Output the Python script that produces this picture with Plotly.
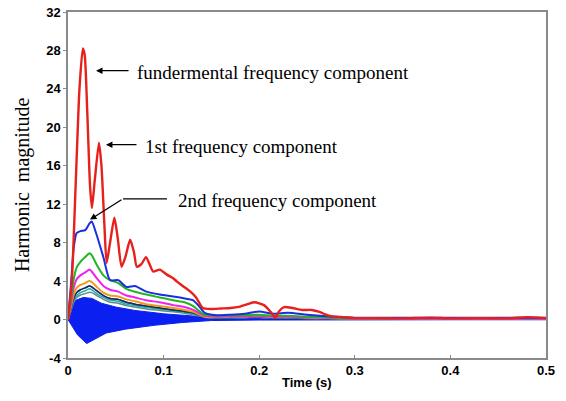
import plotly.graph_objects as go

# ---------------- data ----------------
t_fund = [0, 0.004, 0.008, 0.012, 0.0155, 0.0175, 0.02, 0.023, 0.025, 0.028, 0.0324, 0.035,
          0.038, 0.0404, 0.044, 0.0485, 0.052, 0.056, 0.060, 0.065, 0.069, 0.072, 0.077,
          0.0816, 0.086, 0.089, 0.096, 0.103, 0.110, 0.114, 0.120, 0.128, 0.134, 0.141,
          0.150, 0.160, 0.170, 0.180, 0.188, 0.195, 0.205, 0.212, 0.217, 0.221, 0.226,
          0.235, 0.245, 0.255, 0.263, 0.270, 0.275, 0.280, 0.290, 0.300, 0.320, 0.350,
          0.380, 0.400, 0.430, 0.460, 0.480, 0.500]
v_fund = [0, 4.0, 14.0, 24.0, 28.2, 27.5, 22.0, 14.0, 11.6, 14.5, 18.4, 16.0,
          10.0, 5.9, 8.0, 10.6, 8.5, 5.5, 6.5, 8.3, 7.0, 5.5, 5.8,
          6.5, 5.6, 5.0, 5.2, 4.7, 4.3, 3.95, 3.5, 2.9, 2.3, 1.2,
          1.1, 1.15, 1.2, 1.35, 1.6, 1.8, 1.5, 0.8, 0.2, 0.9, 1.3,
          1.2, 1.0, 1.0, 0.8, 0.5, 0.35, 0.3, 0.25, 0.15, 0.15, 0.12,
          0.2, 0.12, 0.15, 0.12, 0.25, 0.15]

t_h = [0, 0.003, 0.006, 0.009, 0.013, 0.018, 0.0225, 0.0248, 0.030, 0.037, 0.044, 0.0526,
       0.061, 0.070, 0.082, 0.096, 0.110, 0.122, 0.131, 0.137, 0.143, 0.155, 0.170,
       0.185, 0.200, 0.215, 0.230, 0.250, 0.270, 0.300, 0.350, 0.400, 0.450, 0.500]
v_2nd = [0, 3.5, 7.5, 9.0, 9.2, 9.3, 10.0, 10.2, 8.8, 6.5, 4.1, 4.1,
         3.4, 3.5, 2.9, 2.6, 2.4, 2.2, 2.0, 1.4, 0.7, 0.45, 0.5,
         0.6, 0.85, 0.6, 0.7, 0.5, 0.35, 0.2, 0.18, 0.18, 0.18, 0.18]
v_3rd = [0, 2.0, 4.2, 5.4, 6.0, 6.5, 6.9, 6.7, 5.7, 4.6, 4.1, 3.8,
         3.2, 2.9, 2.6, 2.3, 2.0, 1.8, 1.4, 0.9, 0.5, 0.4, 0.42,
         0.45, 0.5, 0.4, 0.4, 0.3, 0.25, 0.15, 0.15, 0.15, 0.15, 0.15]
v_4th = [0, 1.6, 3.3, 4.2, 4.6, 4.9, 5.2, 5.0, 4.3, 3.5, 3.1, 2.9,
         2.5, 2.3, 2.0, 1.8, 1.5, 1.3, 1.0, 0.7, 0.4, 0.3, 0.32,
         0.35, 0.4, 0.3, 0.3, 0.25, 0.2, 0.12, 0.12, 0.12, 0.12, 0.12]
v_5th = [0, 1.3, 2.6, 3.3, 3.6, 3.8, 4.05, 3.9, 3.4, 2.8, 2.5, 2.4,
         2.1, 1.9, 1.6, 1.4, 1.2, 1.0, 0.8, 0.55, 0.3, 0.25, 0.28,
         0.3, 0.35, 0.25, 0.25, 0.2, 0.15, 0.1, 0.1, 0.1, 0.1, 0.1]
v_6th = [0, 1.1, 2.2, 2.8, 3.1, 3.3, 3.5, 3.4, 3.0, 2.5, 2.2, 2.1,
         1.8, 1.6, 1.4, 1.2, 1.0, 0.85, 0.7, 0.5, 0.3, 0.2, 0.22,
         0.25, 0.3, 0.2, 0.2, 0.15, 0.12, 0.1, 0.1, 0.1, 0.1, 0.1]
v_7th = [0, 1.0, 2.0, 2.5, 2.8, 3.0, 3.2, 3.1, 2.7, 2.3, 2.0, 1.9,
         1.6, 1.45, 1.25, 1.1, 0.9, 0.75, 0.6, 0.45, 0.28, 0.2, 0.2,
         0.22, 0.25, 0.2, 0.18, 0.14, 0.1, 0.1, 0.1, 0.1, 0.1, 0.1]
v_8th = [0, 0.9, 1.8, 2.3, 2.55, 2.7, 2.85, 2.8, 2.5, 2.1, 1.8, 1.7,
         1.45, 1.3, 1.1, 0.95, 0.8, 0.65, 0.5, 0.4, 0.25, 0.18, 0.18,
         0.2, 0.22, 0.18, 0.16, 0.12, 0.1, 0.1, 0.1, 0.1, 0.1, 0.1]

# envelope of the high-order oscillating component
t_env_up = [0, 0.003, 0.008, 0.016, 0.025, 0.035, 0.050, 0.070, 0.100, 0.120, 0.140,
            0.170, 0.200, 0.300, 0.400, 0.500]
v_env_up = [0, 1.2, 2.0, 2.3, 2.2, 1.7, 1.3, 0.95, 0.6, 0.45, 0.3,
            0.22, 0.2, 0.15, 0.12, 0.1]
t_env_lo = [0, 0.004, 0.010, 0.0195, 0.025, 0.040, 0.060, 0.090, 0.120, 0.150,
            0.200, 0.300, 0.400, 0.500]
v_env_lo = [0, -0.6, -1.6, -2.5, -2.2, -1.4, -1.0, -0.6, -0.3, -0.1,
            -0.05, -0.02, -0.02, -0.02]

x_ticks = [0, 0.1, 0.2, 0.3, 0.4, 0.5]
y_ticks = [-4, 0, 4, 8, 12, 16, 20, 24, 28, 32]

fig = go.Figure()

# oscillating band
fig.add_trace(go.Scatter(
    x=t_env_up + t_env_lo[::-1], y=v_env_up + v_env_lo[::-1],
    fill="toself", fillcolor="#0a1ff0", mode="lines",
    line=dict(color="#0a1ff0", width=1), hoverinfo="skip", showlegend=False))

lines = [
    (t_h, v_8th, "#5f8f80", 1.5),
    (t_h, v_7th, "#22aab8", 1.5),
    (t_h, v_6th, "#1f6f6f", 1.5),
    (t_h, v_6th, "#1d2a5c", 1.5),
    (t_h, v_5th, "#f39a1e", 2),
    (t_h, v_4th, "#ee22ee", 2),
    (t_h, v_3rd, "#22b522", 2),
    (t_h, v_2nd, "#1a2ee0", 2),
    (t_fund, v_fund, "#e8201c", 2.4),
]
for xs, ys, col, w in lines:
    fig.add_trace(go.Scatter(x=xs, y=ys, mode="lines",
                             line=dict(color=col, width=w, shape="spline", smoothing=0.6),
                             showlegend=False))

serif = "Liberation Serif, Times New Roman, serif"
sans = "Liberation Sans, Arial, sans-serif"
ann_font = dict(family=serif, size=19, color="black")

annotations = [
    dict(x=0.0293, y=25.9, ax=0.0649, ay=25.9, xref="x", yref="y", axref="x", ayref="y",
         text="", showarrow=True, arrowhead=2, arrowsize=1, arrowwidth=1.3, arrowcolor="black"),
    dict(x=0.070, y=25.7, xref="x", yref="y", text="fundermental frequency component",
         showarrow=False, xanchor="left", yanchor="middle", font=ann_font),
    dict(x=0.0397, y=18.2, ax=0.0732, ay=18.2, xref="x", yref="y", axref="x", ayref="y",
         text="", showarrow=True, arrowhead=2, arrowsize=1, arrowwidth=1.3, arrowcolor="black"),
    dict(x=0.0785, y=18.0, xref="x", yref="y", text="1st frequency component",
         showarrow=False, xanchor="left", yanchor="middle", font=ann_font),
    dict(x=0.023, y=10.4, ax=0.0575, ay=12.56, xref="x", yref="y", axref="x", ayref="y",
         text="", showarrow=True, arrowhead=2, arrowsize=1, arrowwidth=1.3, arrowcolor="black"),
    dict(x=0.113, y=12.35, xref="x", yref="y", text="2nd frequency component",
         showarrow=False, xanchor="left", yanchor="middle", font=ann_font),
    dict(x=-0.096, y=0.5, xref="paper", yref="paper", text="Harmonic  magnitude",
         textangle=-90, showarrow=False, xanchor="center", yanchor="middle",
         font=dict(family=serif, size=20, color="black")),
    dict(x=0.5, y=-0.072, xref="paper", yref="paper", text="<b>Time (s)</b>",
         showarrow=False, xanchor="center", yanchor="middle",
         font=dict(family=sans, size=13, color="black")),
]

fig.add_shape(type="line", x0=0.0575, x1=0.1036, y0=12.56, y1=12.56, xref="x", yref="y",
              line=dict(color="black", width=1.3))

tickfont = dict(family=sans, size=13, color="black", weight="bold")
fig.update_layout(
    width=566, height=401,
    margin=dict(l=68, r=20, t=12, b=43, autoexpand=False),
    paper_bgcolor="white", plot_bgcolor="white",
    showlegend=False,
    annotations=annotations,
    xaxis=dict(range=[0, 0.5], tickvals=x_ticks, ticktext=[f"{v:g}" for v in x_ticks],
               showgrid=False, zeroline=False, showline=True, mirror=True, automargin=False,
               linecolor="#8a8a8a", linewidth=1.5, ticks="inside", ticklen=3,
               tickcolor="#8a8a8a", tickfont=tickfont),
    yaxis=dict(range=[-4, 32], tickvals=y_ticks, ticktext=[str(v) for v in y_ticks],
               showgrid=False, zeroline=False, showline=True, mirror=True, automargin=False,
               linecolor="#8a8a8a", linewidth=1.5, ticks="outside", ticklen=3,
               tickcolor="#8a8a8a", tickfont=tickfont),
)

fig.write_html("out.html", config={"displayModeBar": False},
               post_script="document.body.style.margin='0';")
